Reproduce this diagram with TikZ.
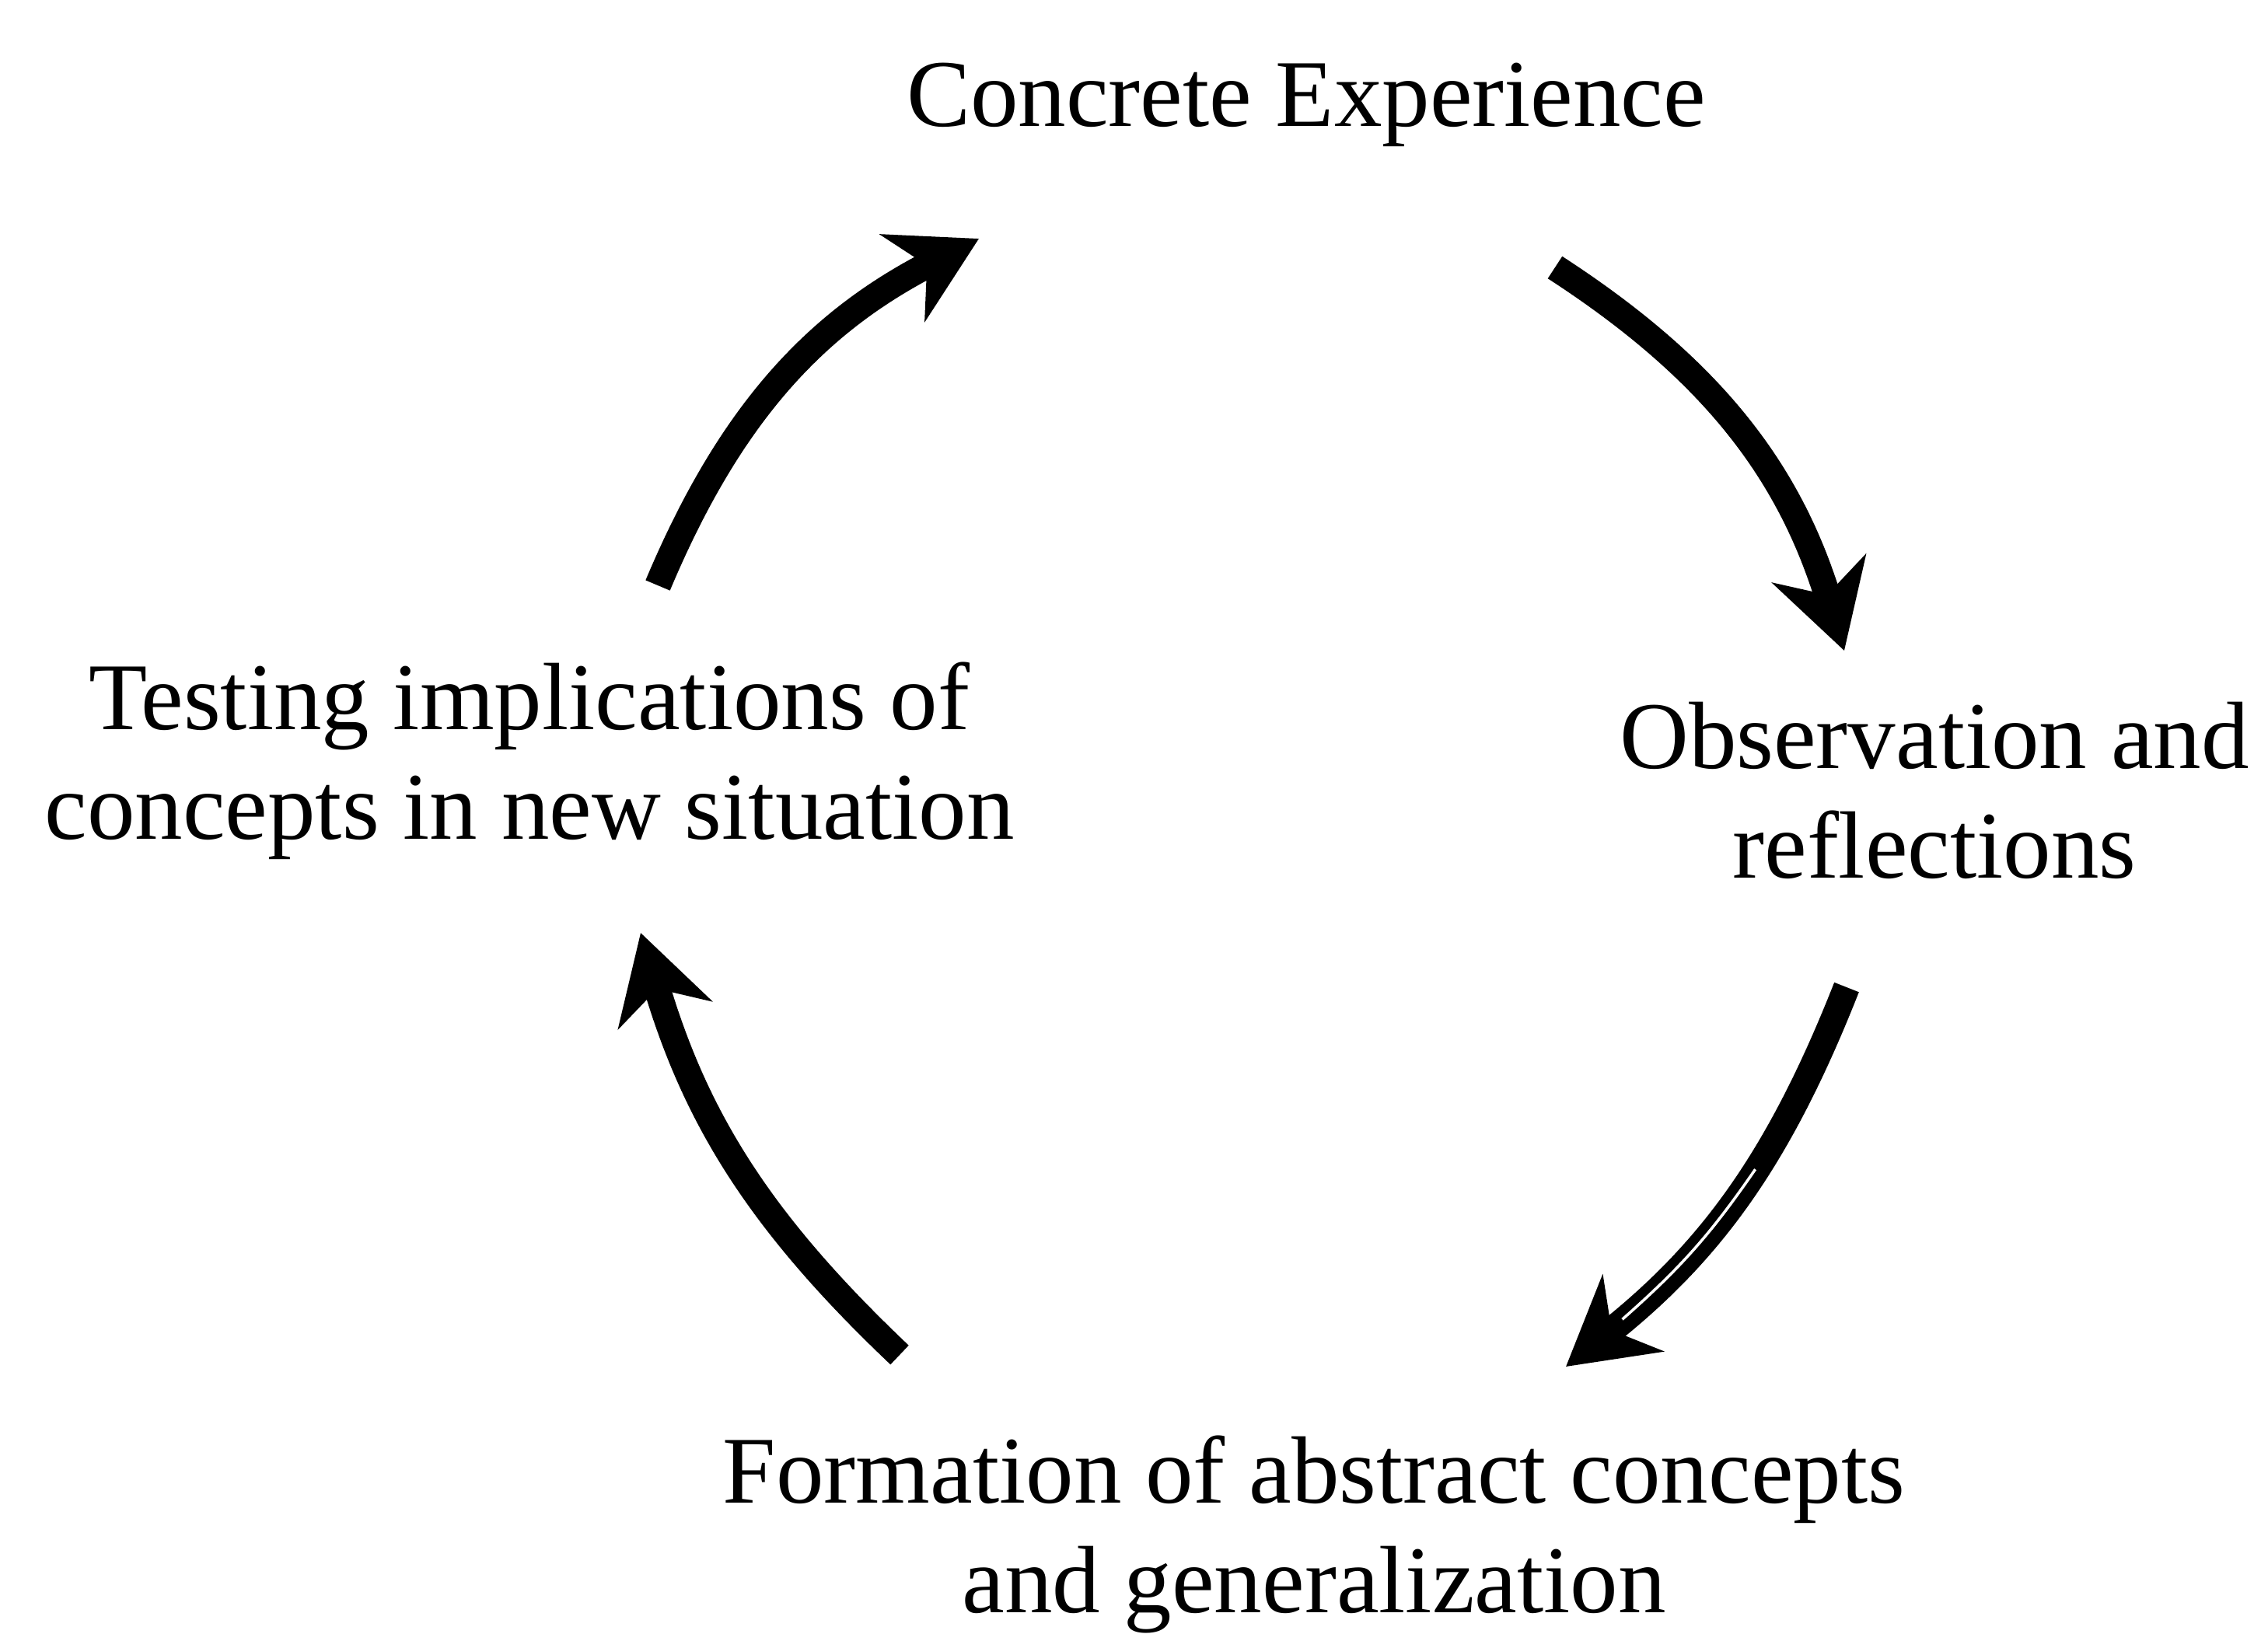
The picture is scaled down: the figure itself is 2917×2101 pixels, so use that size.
\documentclass[tikz,border=0pt]{standalone}
\usepackage{fontspec}
\setmainfont{Liberation Serif}
\usetikzlibrary{arrows.meta}

\begin{document}
\begin{tikzpicture}[x=0.1mm,y=-0.1mm,
    stage/.style={anchor=base,align=center,inner sep=0pt,font=\fontsize{35}{40}\selectfont},
    cyclearrow/.style={line width=3.4mm,-{Stealth[length=11mm,width=12.5mm,inset=3.5mm]}}]
  \useasboundingbox (0,0) rectangle (2917,2101);
  \node[stage] (concrete) at (1680,162) {Concrete Experience};
  \node[stage] (observe) at (2488,1129) {Observation and\\reflections};
  \node[stage] (abstract) at (1690,2074) {Formation of abstract concepts\\and generalization};
  \node[stage] (testing) at (681,1079) {Testing implications of\\concepts in new situation};
  \coordinate (concrete-out) at (2000,344);
  \coordinate (observe-in) at (2372,837);
  \coordinate (observe-out) at (2375,1270);
  \coordinate (abstract-in) at (2014,1758);
  \coordinate (abstract-out) at (1157,1743);
  \coordinate (testing-in) at (824,1200);
  \coordinate (testing-out) at (846,753);
  \coordinate (concrete-in) at (1259,307);
  \draw[cyclearrow] (concrete-out) to[bend left=20] (observe-in);
  \draw[cyclearrow] (observe-out) to[bend left=15] coordinate[pos=0.42] (gap-a) coordinate[pos=0.86] (gap-b) (abstract-in);
  \draw[white,line width=0.35mm] (gap-a) to[bend left=7] (gap-b);
  \draw[cyclearrow] (abstract-out) to[bend left=15] (testing-in);
  \draw[cyclearrow] (testing-out) to[bend left=20] (concrete-in);
\end{tikzpicture}
\end{document}
